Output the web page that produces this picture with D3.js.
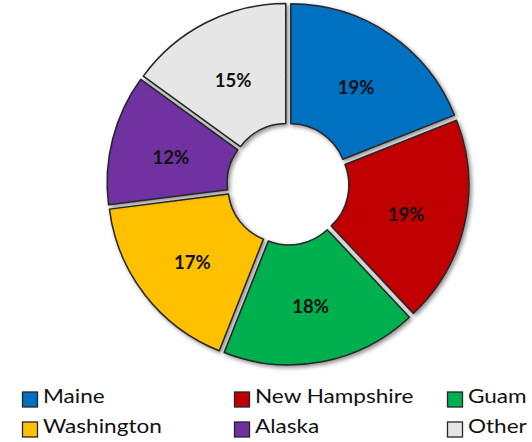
<!DOCTYPE html>
<html>
<head>
<meta charset="utf-8">
<script src="https://cdn.jsdelivr.net/npm/d3@7"></script>
<style>
  body { margin: 0; background: #fff; }
  svg { display: block; font-family: Lato, "Open Sans", sans-serif; }
</style>
</head>
<body>
<div id="chart"></div>
<script>
const categories = ["Maine", "New Hampshire", "Guam", "Washington", "Alaska", "Other"]
const shares = [19, 19, 18, 17, 12, 15]
const colors = ["#0070C0", "#C00000", "#00B050", "#FFC000", "#7030A0", "#E6E6E6"]

const width = 532
const height = 442
const cx = 288
const cy = 184
const outerR = 176
const innerR = 56
const explode = 5

const svg = d3.select("#chart")
  .append("svg")
  .attr("width", width)
  .attr("height", height)

// soft grey shadow like the office chart
const defs = svg.append("defs")
const f = defs.append("filter")
  .attr("id", "shadow")
  .attr("x", "-20%").attr("y", "-20%")
  .attr("width", "140%").attr("height", "140%")
f.append("feDropShadow")
  .attr("dx", 2).attr("dy", 2)
  .attr("stdDeviation", 2)
  .attr("flood-color", "#000")
  .attr("flood-opacity", 0.45)

const pie = d3.pie().sort(null).value(d => d)
const arcs = pie(shares)

const arc = d3.arc().innerRadius(innerR).outerRadius(outerR)

const g = svg.append("g").attr("transform", `translate(${cx},${cy})`)

const slice = g.selectAll("g.slice")
  .data(arcs)
  .enter()
  .append("g")
  .attr("class", "slice")
  .attr("transform", d => {
    const a = (d.startAngle + d.endAngle) / 2
    return `translate(${Math.sin(a) * explode},${-Math.cos(a) * explode})`
  })

slice.append("path")
  .attr("d", arc)
  .attr("fill", (d, i) => colors[i])
  .attr("stroke", "#262626")
  .attr("stroke-width", 1.5)
  .attr("stroke-linejoin", "round")
  .attr("filter", "url(#shadow)")

slice.append("text")
  .attr("transform", d => {
    const [x, y] = arc.centroid(d)
    return `translate(${x},${y + 4})`
  })
  .attr("text-anchor", "middle")
  .attr("dy", "0.35em")
  .attr("font-size", 18.5)
  .attr("font-weight", "bold")
  .attr("fill", "#111")
  .text(d => d.data + "%")

// legend, 3 columns x 2 rows
const colX = [22, 234, 447]
const rowY = [403, 433]

const legend = svg.selectAll("g.legend")
  .data(categories)
  .enter()
  .append("g")
  .attr("class", "legend")
  .attr("transform", (d, i) => `translate(${colX[i % 3]},${rowY[Math.floor(i / 3)]})`)

legend.append("rect")
  .attr("x", 0.5)
  .attr("y", -11)
  .attr("width", 15)
  .attr("height", 15)
  .attr("fill", (d, i) => colors[i])
  .attr("stroke", "#262626")
  .attr("stroke-width", 1.3)

// the original font is wide, so stretch a little
legend.append("text")
  .attr("transform", "translate(21,0) scale(1.22,1)")
  .attr("font-size", 18.5)
  .attr("fill", "#111")
  .text(d => d)
</script>
</body>
</html>
